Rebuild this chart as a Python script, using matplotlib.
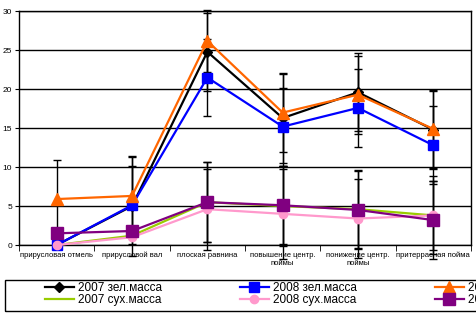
import numpy as np
import matplotlib
matplotlib.use('Agg')
from matplotlib import pyplot as plt

plt.rcParams['font.family'] = ['Liberation Sans', 'DejaVu Sans']

categories = ['прирусловая отмель', 'прирусловой вал', 'плоская равнина',
              'повышение центр.\nпоймы', 'понижение центр.\nпоймы', 'притеррасная пойма']

green_2007 = [0, 5.0, 24.8, 16.3, 19.6, 14.8]
green_2008 = [0, 5.1, 21.5, 15.2, 17.6, 12.8]
green_2009 = [5.9, 6.3, 26.2, 17.0, 19.3, 14.9]
dry_2007 = [0, 1.2, 5.5, 5.0, 4.6, 3.8]
dry_2008 = [0, 1.0, 4.6, 4.0, 3.4, 3.8]
dry_2009 = [1.5, 1.8, 5.5, 5.1, 4.5, 3.2]

err_green_2007 = [0, 6.4, 5.0, 5.8, 5.0, 5.0]
err_green_2008 = [0, 5.0, 5.0, 5.0, 5.0, 5.0]
err_green_2009 = [5.0, 5.0, 4.0, 5.0, 5.0, 5.0]
err_dry_2007 = [0, 0, 5.1, 5.1, 5.0, 5.0]
err_dry_2008 = [0, 0, 5.2, 5.8, 5.1, 4.4]
err_dry_2009 = [0, 0, 5.1, 5.0, 5.0, 5.0]

series = [
    ('2007 зел.масса', green_2007, err_green_2007, 'black', 'D', 5),
    ('2007 сух.масса', dry_2007, err_dry_2007, '#99CC00', None, 0),
    ('2008 зел.масса', green_2008, err_green_2008, '#0000FF', 's', 7),
    ('2008 сух.масса', dry_2008, err_dry_2008, '#FF99CC', 'o', 6),
    ('2009 зел.масса', green_2009, err_green_2009, '#FF6600', '^', 8),
    ('2009 сух.масса', dry_2009, err_dry_2009, '#800080', 's', 8),
]

fig = plt.figure(figsize=(4.76, 3.28), dpi=100)
ax = fig.add_axes([0.040, 0.253, 0.9495, 0.7125])

x = np.arange(len(categories))
for name, vals, err, col, mk, ms in series:
    ax.errorbar(x, vals, yerr=err, fmt='none', ecolor='black', elinewidth=1,
                capsize=3, capthick=1, clip_on=False, zorder=2)
lines = []
for name, vals, err, col, mk, ms in series:
    ln, = ax.plot(x, vals, color=col, lw=1.6, marker=mk, markersize=ms,
                  label=name, zorder=3, clip_on=False)
    lines.append(ln)

ax.set_xlim(-0.5, 5.5)
ax.set_ylim(0, 30)
ax.set_yticks(range(0, 31, 5))
ax.yaxis.grid(True, color='black', lw=1)
ax.set_axisbelow(True)
ax.set_xticks(x)
ax.set_xticklabels(categories, fontsize=5.5)
ax.set_xticks(np.arange(-0.5, 6, 1), minor=True)
ax.tick_params(axis='x', which='major', length=0, pad=5)
ax.tick_params(axis='x', which='minor', length=4, direction='out')
ax.tick_params(axis='y', labelsize=6, length=3, pad=2)
for s in ax.spines.values():
    s.set_color('black')
    s.set_linewidth(1)

# legend: three columns, frame runs off the right edge like the reference
for i, xpos in enumerate([45, 240, 435]):
    leg = fig.legend(handles=lines[2 * i:2 * i + 2], loc='upper left',
                     bbox_to_anchor=(xpos / 476, 1 - 282 / 328),
                     fontsize=8.5, frameon=False, borderaxespad=0, borderpad=0,
                     handlelength=2.45, handletextpad=0.35, labelspacing=0.0)
fig.patches.append(plt.Rectangle((5 / 476, 1 - 311 / 328), 1.0, 31 / 328,
                                 transform=fig.transFigure, fill=False,
                                 ec='black', lw=1))

fig.savefig('out.png', dpi=100)
